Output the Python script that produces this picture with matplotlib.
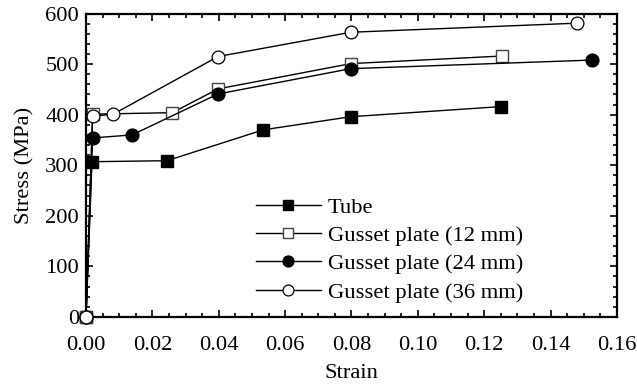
import matplotlib
matplotlib.use("Agg")
import matplotlib.pyplot as plt
from matplotlib.ticker import MultipleLocator, FormatStrFormatter

plt.rcParams['font.family'] = ['Liberation Serif', 'DejaVu Serif']
plt.rcParams['mathtext.fontset'] = 'stix'

tube_x = [0.0, 0.0018, 0.0244, 0.0534, 0.0798, 0.1250]
tube_y = [0, 307, 309, 370, 396, 416]
g12_x = [0.0, 0.0020, 0.0260, 0.0398, 0.0798, 0.1253]
g12_y = [0, 401, 404, 451, 501, 516]
g24_x = [0.0, 0.0020, 0.0139, 0.0398, 0.0798, 0.1524]
g24_y = [0, 354, 360, 441, 491, 508]
g36_x = [0.0, 0.0020, 0.0082, 0.0398, 0.0798, 0.1480]
g36_y = [0, 397, 401, 515, 563, 581]
labels = ['Tube', 'Gusset plate (12 mm)', 'Gusset plate (24 mm)', 'Gusset plate (36 mm)']

fig = plt.figure(figsize=(6.37, 3.87), dpi=100)
ax = fig.add_axes([0.135, 0.181, 0.8336, 0.784])

lw = 1.0
ms = 9.2
ax.plot(tube_x, tube_y, '-', color='black', lw=lw, marker='s', ms=ms,
        mfc='black', mec='black', label=labels[0], clip_on=False, zorder=3)
ax.plot(g12_x, g12_y, '-', color='black', lw=lw, marker='s', ms=ms - 0.7,
        mfc='white', mec='#444444', mew=1.0, label=labels[1], clip_on=False, zorder=3)
ax.plot(g24_x, g24_y, '-', color='black', lw=lw, marker='o', ms=ms,
        mfc='black', mec='black', label=labels[2], clip_on=False, zorder=3)
ax.plot(g36_x, g36_y, '-', color='black', lw=lw, marker='o', ms=ms,
        mfc='white', mec='black', mew=0.9, label=labels[3], clip_on=False, zorder=3)

ax.set_xlim(0, 0.16)
ax.set_ylim(0, 600)
ax.xaxis.set_major_locator(MultipleLocator(0.02))
ax.xaxis.set_minor_locator(MultipleLocator(0.005))
ax.yaxis.set_major_locator(MultipleLocator(100))
ax.yaxis.set_minor_locator(MultipleLocator(20))
ax.xaxis.set_major_formatter(FormatStrFormatter('%.2f'))

fs = 16.2
ax.tick_params(which='both', direction='in', top=True, right=True, labelsize=fs, width=1.2)
ax.tick_params(which='major', length=5)
ax.tick_params(which='minor', length=3)
ax.tick_params(axis='x', which='major', pad=13.5)
ax.tick_params(axis='y', which='major', pad=5)
for s in ax.spines.values():
    s.set_linewidth(1.6)

ax.set_xlabel('Strain', fontsize=fs, labelpad=7)
ax.set_ylabel('Stress (MPa)', fontsize=fs, labelpad=8)

ax.legend(loc='lower left', bbox_to_anchor=(0.29, -0.005), frameon=False, fontsize=fs,
          handlelength=2.9, handletextpad=0.3, labelspacing=0.34, borderpad=0.2,
          markerscale=0.85)

fig.savefig('out.png', dpi=100)
